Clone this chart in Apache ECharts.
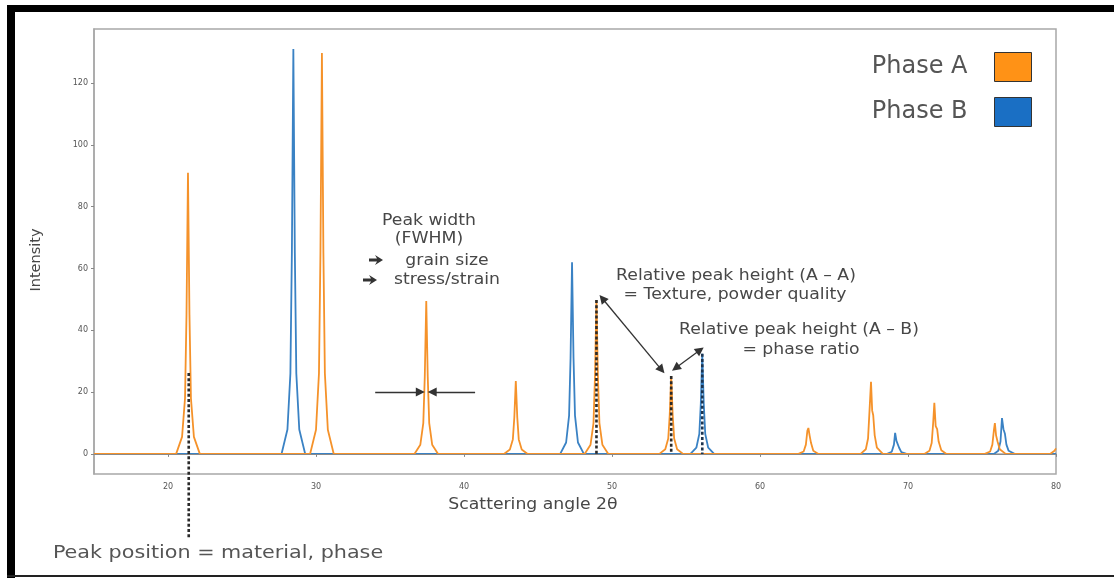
<!DOCTYPE html>
<html>
<head>
<meta charset="utf-8">
<script src="https://cdn.jsdelivr.net/npm/echarts@6/dist/echarts.min.js"></script>
<style>
html,body{margin:0;padding:0;background:#fff;}
#chart{width:1114px;height:578px;}
</style>
</head>
<body>
<div id="chart"></div>
<script>
// ---- data ----
const xTicks = [20, 30, 40, 50, 60, 70, 80];
const yTicks = [0, 20, 40, 60, 80, 100, 120];

const phaseA = [
  [15, 0],
  [20.55, 0], [20.95, 5.5], [21.15, 18], [21.25, 45], [21.35, 91], [21.45, 45], [21.55, 18], [21.75, 5.5], [22.15, 0],
  [29.6, 0], [30.0, 7.8], [30.2, 26], [30.3, 65], [30.4, 129.7], [30.5, 65], [30.6, 26], [30.8, 7.8], [31.2, 0],
  [36.65, 0], [37.05, 3], [37.25, 10], [37.35, 25], [37.45, 49.5], [37.55, 25], [37.65, 10], [37.85, 3], [38.25, 0],
  [42.7, 0], [43.1, 1.4], [43.3, 4.7], [43.4, 11.8], [43.5, 23.6], [43.6, 11.8], [43.7, 4.7], [43.9, 1.4], [44.3, 0],
  [48.15, 0], [48.55, 3], [48.75, 10], [48.85, 25], [48.95, 49.8], [49.05, 25], [49.15, 10], [49.35, 3], [49.75, 0],
  [53.2, 0], [53.6, 1.5], [53.8, 5], [53.9, 12.6], [54.0, 25.2], [54.1, 12.6], [54.2, 5], [54.4, 1.5], [54.8, 0],
  [62.6, 0], [62.95, 0.8], [63.1, 3], [63.2, 7.5], [63.27, 8.4], [63.35, 6], [63.45, 3.5], [63.6, 1], [63.95, 0],
  [66.8, 0], [67.15, 1.5], [67.3, 5], [67.4, 14], [67.5, 23.3], [67.58, 14], [67.65, 12.5], [67.75, 6], [67.9, 2], [68.3, 0],
  [71.1, 0], [71.45, 1], [71.6, 3.5], [71.7, 10], [71.78, 16.5], [71.87, 9], [71.97, 8], [72.07, 4], [72.25, 1.2], [72.6, 0],
  [75.2, 0], [75.55, 0.8], [75.7, 3], [75.8, 7.5], [75.87, 10], [75.95, 6], [76.05, 4], [76.2, 1.5], [76.6, 0],
  [79.6, 0], [79.9, 1], [80, 1.8]
];

const phaseB = [
  [15, 0],
  [27.67, 0], [28.07, 7.9], [28.27, 26], [28.37, 65], [28.47, 131], [28.57, 65], [28.67, 26], [28.87, 7.9], [29.27, 0],
  [46.5, 0], [46.9, 3.7], [47.1, 12.4], [47.2, 31], [47.3, 62], [47.4, 31], [47.5, 12.4], [47.7, 3.7], [48.1, 0],
  [55.3, 0], [55.7, 2], [55.9, 6.5], [56.0, 16.2], [56.1, 32.4], [56.2, 16.2], [56.3, 6.5], [56.5, 2], [56.9, 0],
  [68.6, 0], [68.9, 0.7], [69.05, 3], [69.13, 6.8], [69.22, 4.2], [69.3, 4.3], [69.4, 2], [69.55, 0.6], [69.9, 0],
  [75.8, 0], [76.1, 1], [76.25, 4], [76.35, 11.6], [76.45, 8], [76.55, 6.5], [76.65, 3], [76.8, 1], [77.2, 0],
  [80, 0]
];

// dashed peak-marker lines: [x, top] -> [x, bottom]
const markerA1 = [[21.4, 26.2], [21.4, -27]];
const markerA5 = [[48.95, 49.8], [48.95, 0]];
const markerA6 = [[54.0, 25.2], [54.0, 0]];
const markerB3 = [[56.1, 32.4], [56.1, 0]];

// annotation arrows (data coordinates)
const fwhmLeft = [[34.0, 20], [37.05, 20]];
const fwhmRight = [[40.75, 20], [37.85, 20]];
const arrowAA = [[49.35, 50.3], [53.35, 27.2]];
const arrowAB = [[54.3, 27.8], [55.95, 33.6]];

const FONT = 'DejaVu Sans';
const ORANGE = '#f5922a';
const BLUE = '#3a82c4';
const TXT = '#474747';

function dashedSeries(pts, color) {
  return {
    type: 'line', data: pts, showSymbol: false, clip: false, silent: true,
    lineStyle: { color: color, width: 2.6, type: [3, 2.2] }, z: 5, animation: false
  };
}
function arrowLine(pts, startSym) {
  return [
    { coord: pts[0], symbol: startSym ? 'triangle' : 'none', symbolSize: 9 },
    { coord: pts[1], symbol: 'triangle', symbolSize: 9 }
  ];
}
function txt(x, y, s, size, color, sx) {
  return {
    type: 'text', x: x, y: y, scaleX: sx || 1.15, z: 100,
    style: { text: s, font: size + 'px "' + FONT + '"', fill: color || TXT, textAlign: 'center', textVerticalAlign: 'middle' }
  };
}
// heavy bullet arrow glyph drawn as a polygon, anchored at its left end
function bulletArrow(x, y) {
  return {
    type: 'polygon', x: x, y: y, z: 100,
    shape: { points: [[0, -1.6], [8, -1.6], [6, -5], [14, 0], [6, 5], [8, 1.6], [0, 1.6]] },
    style: { fill: '#333' }
  };
}

const chart = echarts.init(document.getElementById('chart'));
chart.setOption({
  animation: false,
  backgroundColor: '#ffffff',
  grid: { left: 94, right: 58, top: 29, bottom: 104, show: true, borderColor: '#a8a8a8', borderWidth: 1.5 },
  legend: {
    orient: 'vertical', right: 77, top: 47, align: 'right',
    itemWidth: 37, itemHeight: 29, itemGap: 15, icon: 'rect',
    data: ['Phase A', 'Phase B'],
    itemStyle: { borderColor: '#333', borderWidth: 1 },
    textStyle: { fontFamily: FONT, fontSize: 24, color: '#555', padding: [0, 22, 0, 0] }
  },
  xAxis: {
    type: 'value', min: 15, max: 80,
    axisLine: { show: true, lineStyle: { color: '#a8a8a8', width: 1.5 } },
    axisTick: { show: true, length: 3, customValues: xTicks, lineStyle: { color: '#888' } },
    axisLabel: { customValues: xTicks, fontFamily: FONT, fontSize: 8, color: '#555', margin: 9 },
    splitLine: { show: false }
  },
  yAxis: {
    type: 'value', min: -6.5, max: 137.5,
    axisLine: { show: true, lineStyle: { color: '#a8a8a8', width: 1.5 } },
    axisTick: { show: true, length: 3, customValues: yTicks, lineStyle: { color: '#888' } },
    axisLabel: { customValues: yTicks, fontFamily: FONT, fontSize: 8, color: '#555', margin: 6 },
    splitLine: { show: false }
  },
  series: [
    {
      name: 'Phase B', type: 'line', data: phaseB, showSymbol: false, z: 2,
      itemStyle: { color: '#1a6fc4' }, lineStyle: { color: BLUE, width: 1.8 }
    },
    {
      name: 'Phase A', type: 'line', data: phaseA, showSymbol: false, z: 3, clip: false,
      itemStyle: { color: '#ff9216' }, lineStyle: { color: ORANGE, width: 1.8 },
      markLine: {
        silent: true, animation: false, symbol: 'none',
        label: { show: false },
        lineStyle: { color: '#333', width: 1.3, type: 'solid' },
        data: [
          [{ coord: [15, 0], symbol: 'none' }, { coord: [80, 0], symbol: 'none', lineStyle: { color: '#8a8a8a', width: 1 } }],
          arrowLine(fwhmLeft, false),
          arrowLine(fwhmRight, false),
          arrowLine(arrowAA, true),
          arrowLine(arrowAB, true)
        ]
      }
    },
    dashedSeries(markerA1, '#2a2a2a'),
    dashedSeries(markerA5, '#2a2a2a'),
    dashedSeries(markerA6, '#2a2a2a'),
    dashedSeries(markerB3, '#1d3550')
  ],
  graphic: [
    // outer black frame
    { type: 'rect', shape: { x: 7, y: 5, width: 8, height: 573 }, style: { fill: '#000' }, z: 200 },
    { type: 'rect', shape: { x: 7, y: 5, width: 1107, height: 7 }, style: { fill: '#000' }, z: 200 },
    { type: 'rect', shape: { x: 7, y: 575, width: 1107, height: 2 }, style: { fill: '#222' }, z: 200 },
    // axis titles
    {
      type: 'text', x: 36, y: 260, rotation: Math.PI / 2, z: 100,
      style: { text: 'Intensity', font: '14.5px "' + FONT + '"', fill: TXT, textAlign: 'center', textVerticalAlign: 'middle' }
    },
    txt(533, 505, 'Scattering angle 2θ', 15),
    // annotations
    txt(429, 221, 'Peak width', 15),
    txt(429, 239, '(FWHM)', 15),
    bulletArrow(369, 260),
    txt(447, 261, 'grain size', 15),
    bulletArrow(363, 280),
    txt(447, 280, 'stress/strain', 15),
    txt(736, 276, 'Relative peak height (A – A)', 15),
    txt(735, 295, '= Texture, powder quality', 15),
    txt(799, 330, 'Relative peak height (A – B)', 15),
    txt(801, 350, '= phase ratio', 15),
    txt(218, 553, 'Peak position = material, phase', 18, '#555')
  ]
});
</script>
</body>
</html>
